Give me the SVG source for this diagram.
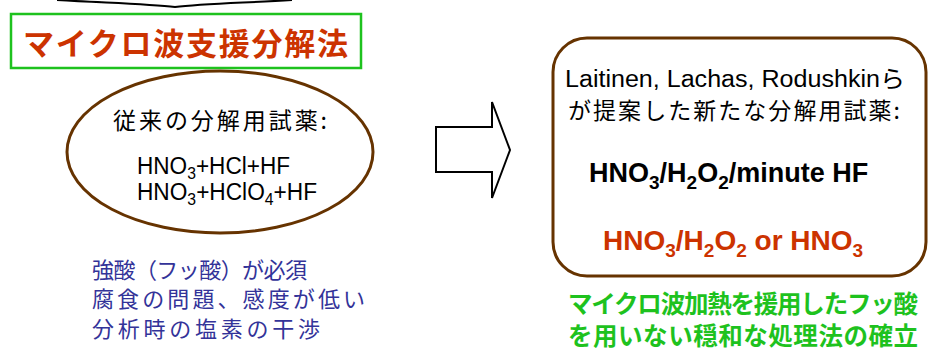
<svg xmlns="http://www.w3.org/2000/svg" width="942" height="361" viewBox="0 0 942 361">
<style>
text { font-family: "Liberation Sans", "Noto Sans CJK JP", sans-serif; }
.jp { font-family: "Noto Sans CJK JP", "Liberation Sans", sans-serif; }
.blk { fill: #000; }
.blue { fill: #333399; font-size: 22px; }
.green { fill: #1ec21e; font-size: 24.5px; font-weight: bold; }
.brown { fill: #fff; stroke: #663300; stroke-width: 3; }
.chem { font-size: 23px; fill: #000; }
</style>
<rect width="942" height="361" fill="#fff"/>
<g id="top-brace">
  <path d="M57,0 C110,3 150,4 175,7 C200,4 240,3 292,0" fill="none" stroke="#000" stroke-width="2"/>
</g>
<g id="title">
  <rect x="11" y="14" width="350" height="54" fill="#fff" stroke="#1ec21e" stroke-width="2.5"/>
  <text class="jp" x="23" y="55" font-size="31" font-weight="bold" fill="#cc3300" textLength="325" lengthAdjust="spacing">マイクロ波支援分解法</text>
</g>
<g id="conventional">
  <ellipse cx="220" cy="152" rx="153" ry="81" class="brown"/>
  <text class="jp blk" x="113" y="129" font-size="23" textLength="214" lengthAdjust="spacing">従来の分解用試薬:</text>
  <text class="chem" x="137" y="174" textLength="153" lengthAdjust="spacingAndGlyphs">HNO<tspan font-size="16" dy="5">3</tspan><tspan dy="-5">+HCl+HF</tspan></text>
  <text class="chem" x="137" y="200" textLength="180" lengthAdjust="spacingAndGlyphs">HNO<tspan font-size="16" dy="5">3</tspan><tspan dy="-5">+HClO</tspan><tspan font-size="16" dy="5">4</tspan><tspan dy="-5">+HF</tspan></text>
</g>
<g id="problems">
  <text class="jp blue" x="92" y="278" textLength="215" lengthAdjust="spacing">強酸（フッ酸）が必須</text>
  <text class="jp blue" x="92" y="307" textLength="273" lengthAdjust="spacing">腐食の問題、感度が低い</text>
  <text class="jp blue" x="92" y="337" textLength="228" lengthAdjust="spacing">分析時の塩素の干渉</text>
</g>
<g id="connectors">
  <polygon points="436,127 492,127 492,102 510,150 492,198 492,172 436,172" fill="#fff" stroke="#000" stroke-width="2" stroke-linejoin="miter"/>
</g>
<g id="proposed">
  <rect x="553" y="38" width="373" height="238" rx="34" ry="34" class="brown"/>
  <text class="blk" x="565" y="87" font-size="23" textLength="340" lengthAdjust="spacingAndGlyphs">Laitinen, Lachas, Rodushkinら</text>
  <text class="jp blk" x="568" y="119" font-size="23" textLength="332" lengthAdjust="spacing">が提案した新たな分解用試薬:</text>
  <text x="589" y="182" font-size="27" font-weight="bold" fill="#000">HNO<tspan font-size="19" dy="7">3</tspan><tspan dy="-7">/H</tspan><tspan font-size="19" dy="7">2</tspan><tspan dy="-7">O</tspan><tspan font-size="19" dy="7">2</tspan><tspan dy="-7">/minute HF</tspan></text>
  <text x="603" y="250" font-size="28" font-weight="bold" fill="#cc3300">HNO<tspan font-size="19" dy="7">3</tspan><tspan dy="-7">/H</tspan><tspan font-size="19" dy="7">2</tspan><tspan dy="-7">O</tspan><tspan font-size="19" dy="7">2</tspan><tspan dy="-7"> or HNO</tspan><tspan font-size="19" dy="7">3</tspan></text>
</g>
<g id="conclusion">
  <text class="jp green" x="568" y="313" textLength="350" lengthAdjust="spacing">マイクロ波加熱を援用したフッ酸</text>
  <text class="jp green" x="568" y="345" textLength="350" lengthAdjust="spacing">を用いない穏和な処理法の確立</text>
</g>
</svg>
